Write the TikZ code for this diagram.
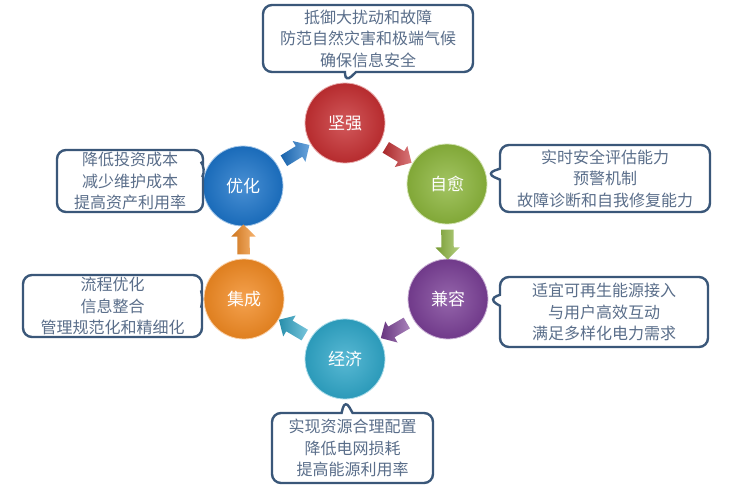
\documentclass[tikz,border=0pt]{standalone}
\usepackage{fontspec}
\newfontfamily\cjk{Noto Sans CJK SC}
\usetikzlibrary{shapes.callouts,shapes.arrows,calc}
\definecolor{boxblue}{HTML}{3A5779}
\definecolor{txtgray}{HTML}{5A6E8A}
\definecolor{cred}{HTML}{C62F32}
\definecolor{cgreen}{HTML}{8CB63C}
\definecolor{cpurple}{HTML}{7A3F96}
\definecolor{cteal}{HTML}{2FA7C9}
\definecolor{corange}{HTML}{F28A22}
\definecolor{cblue}{HTML}{1C74C9}
\begin{document}
\begin{tikzpicture}[x=1pt,y=-1pt,
  ballnode/.style={circle, minimum size=80pt, inner sep=0pt, text=white,
    font=\cjk\fontsize{17}{20}\selectfont, draw=#1!40!white, line width=0.8pt,
    inner color=#1!80!white, outer color=#1!92!black},
  callbox/.style={rectangle callout, rounded corners=9pt, draw=boxblue, line width=2.4pt,
    fill=white, text=txtgray, align=center, inner sep=0pt,
    font=\cjk\fontsize{16}{21.5}\selectfont, callout pointer width=11pt},
  blockarrow/.style={single arrow, minimum height=30pt, inner sep=6pt,
    single arrow head extend=6pt, draw=none, sloped, allow upside down,
    left color=#1!85!black, right color=#1!65!white}
]
\useasboundingbox (0,0) rectangle (730,485);
\fill[white] (0,0) rectangle (730,485);

\node[ballnode=cred]    (jq) at (345,123) {坚强};
\node[ballnode=cgreen]  (zy) at (447,184) {自愈};
\node[ballnode=cpurple] (jr) at (448,299) {兼容};
\node[ballnode=cteal]   (jj) at (345,359) {经济};
\node[ballnode=corange] (jc) at (244,299) {集成};
\node[ballnode=cblue]   (yh) at (243,186) {优化};

\path (jq) -- node[blockarrow=cred] {} (zy);
\path (zy) -- node[blockarrow=cgreen] {} (jr);
\path (jr) -- node[blockarrow=cpurple] {} (jj);
\path (jj) -- node[blockarrow=cteal] {} (jc);
\path (jc) -- node[blockarrow=corange] {} (yh);
\path (yh) -- node[blockarrow=cblue] {} (jq);

\node[callbox, minimum width=210pt, minimum height=67pt,
  callout absolute pointer={(jq.north)}] (b1) at (368,38.5)
  {抵御大扰动和故障\\防范自然灾害和极端气候\\确保信息安全};
\node[callbox, minimum width=210pt, minimum height=67pt,
  callout absolute pointer={(zy.15)}] (b2) at (605,178.5)
  {实时安全评估能力\\预警机制\\故障诊断和自我修复能力};
\node[callbox, minimum width=208pt, minimum height=70pt,
  callout absolute pointer={(jr.east)}] (b3) at (604,312)
  {适宜可再生能源接入\\与用户高效互动\\满足多样化电力需求};
\node[callbox, minimum width=161pt, minimum height=70pt,
  callout absolute pointer={(jj.south)}] (b4) at (352.5,448)
  {实现资源合理配置\\降低电网损耗\\提高能源利用率};
\node[callbox, minimum width=146pt, minimum height=62pt,
  callout absolute pointer={(yh.155)}] (b5) at (130,181)
  {降低投资成本\\减少维护成本\\提高资产利用率};
\node[callbox, minimum width=179pt, minimum height=62pt,
  callout absolute pointer={(jc.west)}] (b6) at (112.5,306)
  {流程优化\\信息整合\\管理规范化和精细化};
\end{tikzpicture}
\end{document}
